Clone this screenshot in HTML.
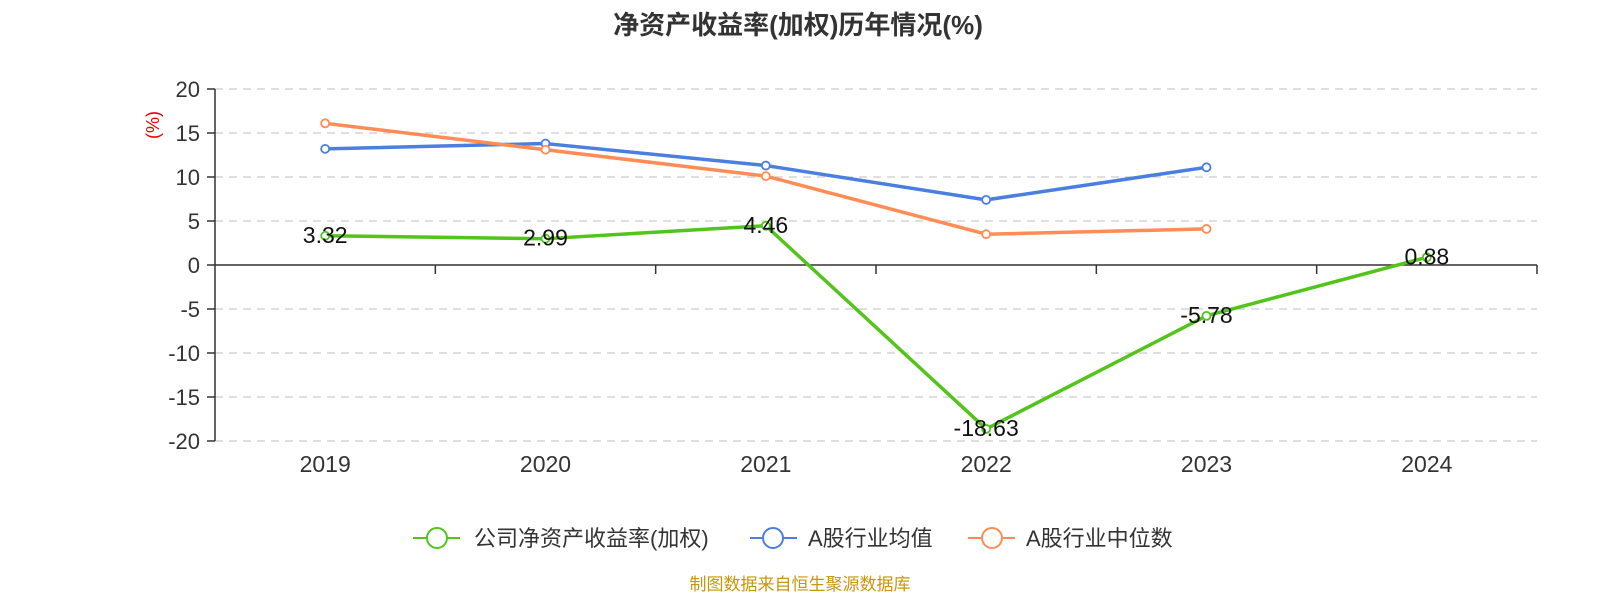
<!DOCTYPE html>
<html><head><meta charset="utf-8"><style>
body{margin:0;background:#fff;font-family:"Liberation Sans","Noto Sans CJK SC",sans-serif;}
</style></head><body>
<svg width="1600" height="600" xmlns="http://www.w3.org/2000/svg" font-family="Liberation Sans, Noto Sans CJK SC, sans-serif">
<text x="798" y="34" text-anchor="middle" font-size="26" font-weight="bold" fill="#333">净资产收益率(加权)历年情况(%)</text>
<text transform="translate(159,125) rotate(-90)" text-anchor="middle" font-size="18" fill="#e00">(%)</text>
<g id="grid"></g><g id="axes"></g><g id="series"></g>
<g>
<g><line x1="413" y1="538" x2="460" y2="538" stroke="#52c41a" stroke-width="2"/><circle cx="437" cy="538" r="10" fill="#fff" stroke="#52c41a" stroke-width="2"/><text x="474" y="546" font-size="22" fill="#333">公司净资产收益率(加权)</text></g>
<g><line x1="750" y1="538" x2="797" y2="538" stroke="#4a7ee0" stroke-width="2"/><circle cx="773" cy="538" r="10" fill="#fff" stroke="#4a7ee0" stroke-width="2"/><text x="808" y="546" font-size="22" fill="#333">A股行业均值</text></g>
<g><line x1="968" y1="538" x2="1015" y2="538" stroke="#ff8c55" stroke-width="2"/><circle cx="992" cy="538" r="10" fill="#fff" stroke="#ff8c55" stroke-width="2"/><text x="1026" y="546" font-size="22" fill="#333">A股行业中位数</text></g>
</g>
<text x="800" y="590" text-anchor="middle" font-size="17" fill="#c8960a">制图数据来自恒生聚源数据库</text>
</svg>
<script>
const categories=["2019","2020","2021","2022","2023","2024"];
const companyValues=[3.32,2.99,4.46,-18.63,-5.78,0.88];
const avgValues=[13.2,13.8,11.3,7.4,11.1,null];
const medianValues=[16.1,13.1,10.1,3.5,4.1,null];
const yTicks=[20,15,10,5,0,-5,-10,-15,-20];
const NS="http://www.w3.org/2000/svg";
const L=215,R=1537,band=(R-L)/categories.length;
const xs=i=>L+band*(i+0.5);
const ys=v=>265-v*8.8;
function mk(t,a,p){const e=document.createElementNS(NS,t);for(const k in a)e.setAttribute(k,a[k]);p.appendChild(e);return e;}
const grid=document.getElementById('grid'),axes=document.getElementById('axes'),ser=document.getElementById('series');
yTicks.forEach(v=>{
 if(v!==0){const g=mk('line',{x1:L,x2:R,y1:ys(v),y2:ys(v),stroke:'#ccc','stroke-dasharray':'8,6','stroke-width':1.2},grid);
 
 }
 mk('line',{x1:L-8,x2:L,y1:ys(v),y2:ys(v),stroke:'#333','stroke-width':1.5},axes);
 const t=mk('text',{x:L-15,y:ys(v)+8,'text-anchor':'end','font-size':22,fill:'#333'},axes);t.textContent=v;
 
 
});
mk('line',{x1:L,x2:L,y1:ys(20),y2:ys(-20),stroke:'#333','stroke-width':1.5},axes);
mk('line',{x1:L,x2:R,y1:ys(0),y2:ys(0),stroke:'#333','stroke-width':1.5},axes);
categories.forEach((c,i)=>{
 mk('line',{x1:L+band*(i+1),x2:L+band*(i+1),y1:ys(0),y2:ys(0)+9,stroke:'#333','stroke-width':1.5},axes);
 const t=mk('text',{x:xs(i),y:472,'text-anchor':'middle','font-size':23,fill:'#333'},axes);t.textContent=c;
 
 
});
function line(vals,color,name,labels){
 const pts=vals.map((v,i)=>v==null?null:[xs(i),ys(v)]).filter(p=>p);
 const p=mk('polyline',{points:pts.map(p=>p.join(',')).join(' '),fill:'none',stroke:color,'stroke-width':3.5,'stroke-linejoin':'round'},ser);
 
 
 pts.forEach(q=>{const c=mk('circle',{cx:q[0],cy:q[1],r:4,fill:'#fff',stroke:color,'stroke-width':1.8},ser);
 
 });
 if(labels)vals.forEach((v,i)=>{const t=mk('text',{x:xs(i),y:ys(v)+7,'text-anchor':'middle','font-size':23,fill:'#111'},ser);t.textContent=v.toFixed(2);
 
 });
}
line(avgValues,'#4a7ee0','a-avg',false);
line(medianValues,'#ff8c55','a-median',false);
line(companyValues,'#52c41a','company',true);
</script>
</body></html>
